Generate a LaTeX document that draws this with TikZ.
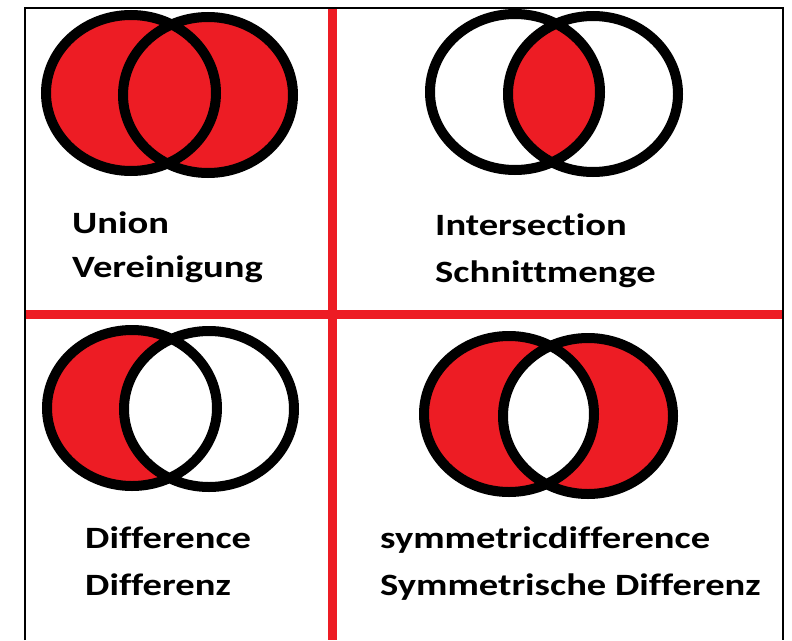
\documentclass[tikz,border=0pt]{standalone}
\usepackage{fontspec}
\setmainfont{Carlito}[FakeStretch=1.245,Ligatures={NoCommon}]
\definecolor{pred}{HTML}{ED1C24}
\begin{document}
\begin{tikzpicture}[x=1pt,y=-1pt,
  er/.style={x radius=85pt,y radius=78pt},
  ring/.style={draw=black,line width=10pt},
  lbl/.style={anchor=base west,inner sep=0pt,font=\fontsize{31}{37}\selectfont\bfseries},
  divider/.style={draw=pred,line width=9pt},
  frameline/.style={draw=black,line width=2pt}]
\useasboundingbox (0,0) rectangle (792,640);
\fill[white] (0,0) rectangle (792,640);
% grid lines
\draw[divider] (332,8) -- (332,640);
\draw[divider] (25,314) -- (783,314);
\draw[frameline] (25,640) -- (25,8) -- (783,8) -- (783,640);
% Union
\fill[pred] (131,93) ellipse[er] (208,95) ellipse[er];
\draw[ring] (131,93) ellipse[er] (208,95) ellipse[er];
% Intersection
\begin{scope}
  \clip (515,92) ellipse[er];
  \fill[pred] (593,94) ellipse[er];
\end{scope}
\draw[ring] (515,92) ellipse[er] (593,94) ellipse[er];
% Difference
\begin{scope}
  \clip (132,408) ellipse[er];
  \fill[pred,even odd rule] (132,408) ellipse[er] (209,409) ellipse[er];
\end{scope}
\draw[ring] (132,408) ellipse[er] (209,409) ellipse[er];
% Symmetric difference
\fill[pred,even odd rule] (509,414) ellipse[er] (588,416) ellipse[er];
\draw[ring] (509,414) ellipse[er] (588,416) ellipse[er];
% labels
\node[lbl] (union1) at (72,233) {Union};
\node[lbl] (union2) at (72,277) {Vereinigung};
\node[lbl] (inter1) at (435,235) {Intersection};
\node[lbl] (inter2) at (435,282) {Schnittmenge};
\node[lbl] (diff1) at (85,548) {Difference};
\node[lbl] (diff2) at (85,595) {Differenz};
\node[lbl] (sym1) at (380,548) {symmetricdifference};
\node[lbl] (sym2) at (380,595) {Symmetrische Differenz};
\end{tikzpicture}
\end{document}
